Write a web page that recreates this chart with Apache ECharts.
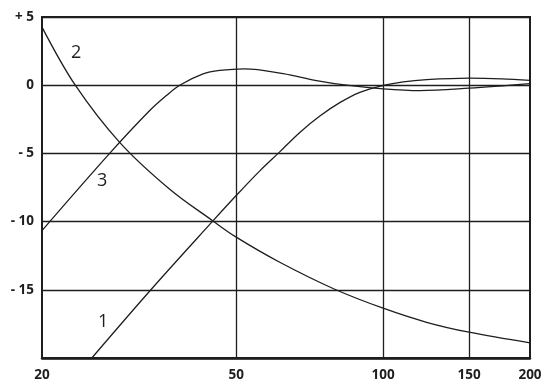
<!DOCTYPE html>
<html>
<head>
<meta charset="utf-8">
<script src="https://cdn.jsdelivr.net/npm/echarts@6/dist/echarts.min.js"></script>
<style>
html,body{margin:0;padding:0;background:#fff;}
#chart{width:545px;height:387px;}
</style>
</head>
<body>
<div id="chart"></div>
<script>
// Frequency ticks (log axis)
const xTicks = [20, 50, 100, 150, 200];
const xGridLines = [50, 100, 150];
// Level ticks
const yMin = -20, yMax = 5, yStep = 5;

// Curve 1: [frequency, level]
const curve1 = [
  [25.3, -20], [33.5, -14.96], [44.8, -9.95], [50, -8.09], [55.9, -6.28],
  [61.4, -4.89], [67.5, -3.46], [74.2, -2.26], [81.5, -1.28], [89.6, -0.52],
  [100, -0.02], [110, 0.25], [122.8, 0.41], [150, 0.52], [175, 0.47], [200, 0.35]
];
// Curve 2
const curve2 = [
  [20, 4.26], [23.4, 0], [28.85, -4.19], [36.54, -7.63], [44.8, -9.95],
  [50, -11.14], [61.4, -12.98], [79.6, -14.96], [100, -16.35],
  [122.8, -17.38], [150, -18.11], [200, -18.89]
];
// Curve 3
const curve3 = [
  [20, -10.66], [27.52, -5.0], [33.25, -1.86], [35.97, -0.76], [38.3, 0],
  [42.76, 0.83], [46.25, 1.08], [52, 1.2], [62.4, 0.85],
  [73.05, 0.34], [84.2, 0], [100, -0.27], [119, -0.4], [150, -0.22], [200, 0.12]
];
const curveNames = ['1', '2', '3'];

const ink = '#1e1e1e';
const chart = echarts.init(document.getElementById('chart'), null, {renderer: 'canvas'});

function lineSeries(name, data, extra) {
  return Object.assign({
    name: name,
    type: 'line',
    data: data,
    smooth: 0.35,
    showSymbol: false,
    symbol: 'none',
    lineStyle: {color: ink, width: 1.3},
    silent: true,
    z: 5
  }, extra || {});
}

const labelFont = {color: ink, fontFamily: 'Open Sans', fontWeight: 'bold', fontSize: 13.5};

chart.setOption({
  animation: false,
  backgroundColor: '#fff',
  grid: {left: 42, right: 15, top: 17, bottom: 29, show: true, borderColor: ink, borderWidth: 2, containLabel: false},
  xAxis: {
    type: 'log',
    logBase: 10,
    min: xTicks[0],
    max: xTicks[xTicks.length - 1],
    axisLine: {show: true, onZero: false, lineStyle: {color: ink, width: 2.5}},
    axisTick: {show: false},
    splitLine: {show: false},
    axisLabel: Object.assign({
      customValues: xTicks,
      margin: 10,
      formatter: v => String(Math.round(v))
    }, labelFont)
  },
  yAxis: {
    type: 'value',
    min: yMin,
    max: yMax,
    interval: yStep,
    axisLine: {show: true, onZero: false, lineStyle: {color: ink, width: 2}},
    axisTick: {show: false},
    splitLine: {show: true, lineStyle: {color: ink, width: 1.3}},
    axisLabel: Object.assign({
      margin: 8,
      showMinLabel: false,
      formatter: v => v > 0 ? '+ ' + v : (v < 0 ? '- ' + Math.abs(v) : '0')
    }, labelFont)
  },
  series: [
    lineSeries(curveNames[0], curve1, {
      markLine: {
        silent: true,
        symbol: 'none',
        label: {show: false},
        lineStyle: {color: ink, width: 1.3, type: 'solid'},
        data: xGridLines.map(v => ({xAxis: v}))
      }
    }),
    lineSeries(curveNames[1], curve2),
    lineSeries(curveNames[2], curve3)
  ],
  graphic: [
    {type: 'text', left: 71, top: 44, style: {text: curveNames[1], fontSize: 18, fontFamily: 'Open Sans', fill: ink}},
    {type: 'text', left: 97, top: 172, style: {text: curveNames[2], fontSize: 18, fontFamily: 'Open Sans', fill: ink}},
    {type: 'text', left: 98, top: 313, style: {text: curveNames[0], fontSize: 18, fontFamily: 'Open Sans', fill: ink}}
  ]
});
</script>
</body>
</html>
